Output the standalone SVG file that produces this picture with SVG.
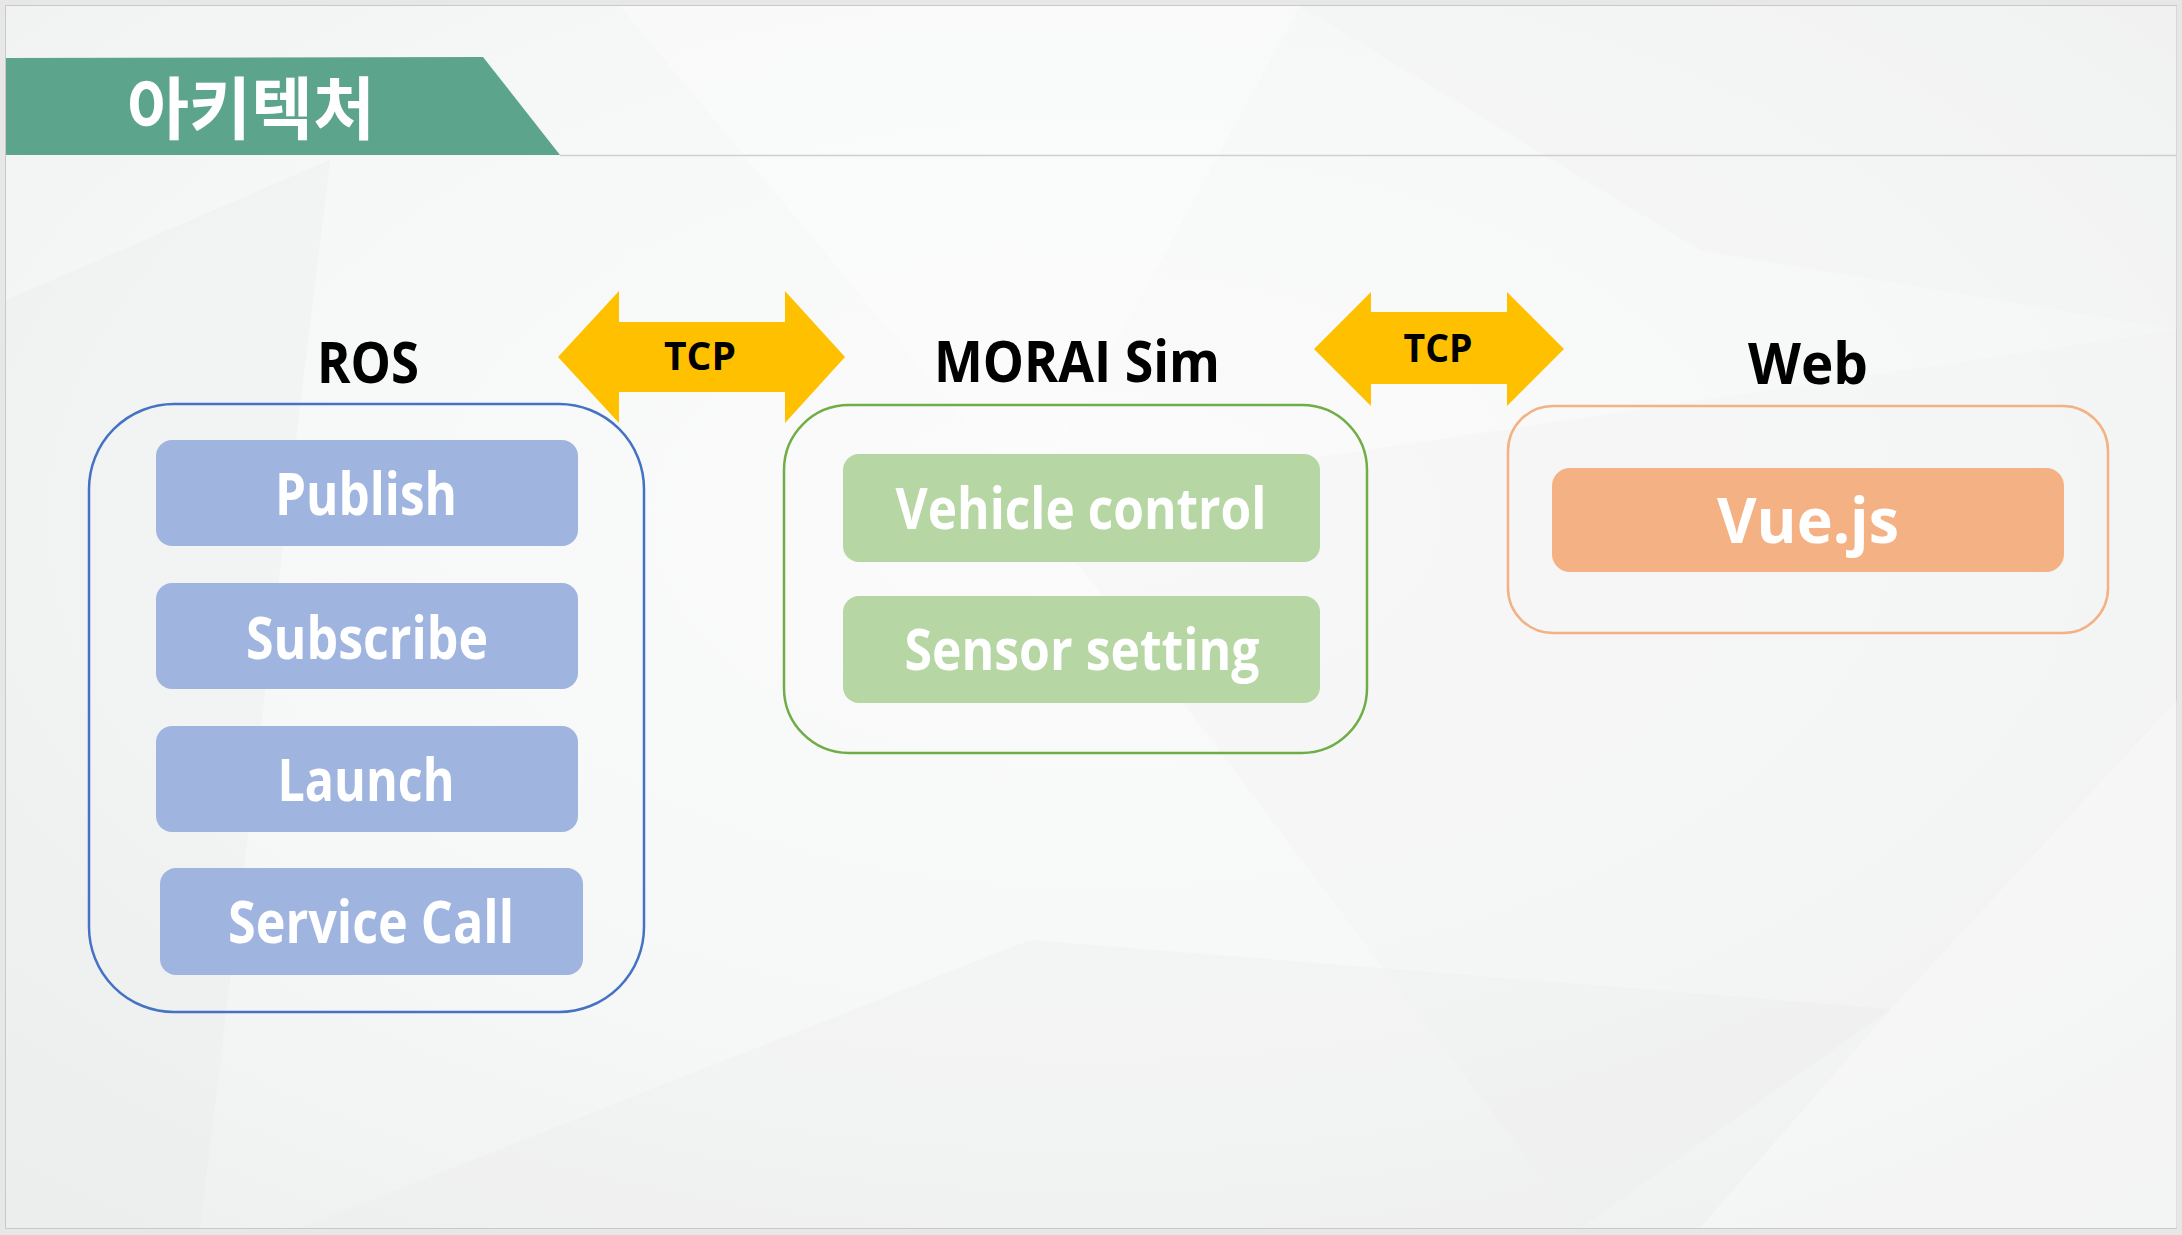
<svg xmlns="http://www.w3.org/2000/svg" width="2182" height="1235" viewBox="0 0 2182 1235">
<defs>
<style>
.lbl{font-family:"Open Sans","Noto Sans",sans-serif;font-weight:700;fill:#ffffff;text-anchor:middle}
.hdr{font-family:"Open Sans","Noto Sans",sans-serif;font-weight:700;fill:#000000;text-anchor:middle;font-size:58px}
.tcp{font-family:"Open Sans","Noto Sans",sans-serif;font-weight:700;fill:#000000;text-anchor:middle;font-size:40px}
.ros-btn{fill:#9FB5DF}
.sim-btn{fill:#B6D6A3}
.web-btn{fill:#F4B183}
.frame{fill:none;stroke-width:2.5}
.arrow{fill:#FFC000}
.facet{stroke:none}
</style>
<radialGradient id="bg" cx="0.5" cy="0.42" r="0.75">
<stop offset="0" stop-color="#fbfbfb"/>
<stop offset="0.6" stop-color="#f6f7f7"/>
<stop offset="1" stop-color="#eeefef"/>
</radialGradient>
</defs>
<g id="background">
<rect width="2182" height="1235" fill="#e7e7e7"/>
<rect x="5.5" y="5.5" width="2171" height="1223" fill="url(#bg)" stroke="#c9c9c9" stroke-width="1"/>
<polygon class="facet" points="620,6 1300,6 1030,500" fill="#ffffff" opacity="0.3"/>
<polygon class="facet" points="6,300 330,160 200,1228 6,1228" fill="#e9eaea" opacity="0.3"/>
<polygon class="facet" points="1030,500 2177,330 2177,1228 1580,1228" fill="#eeeeee" opacity="0.25"/>
<polygon class="facet" points="1891,1009 2177,700 2177,1228 1700,1228" fill="#ffffff" opacity="0.3"/>
<polygon class="facet" points="300,1228 1030,940 1891,1009 1580,1228" fill="#ebecec" opacity="0.3"/>
<polygon class="facet" points="1300,6 2177,6 2177,330 1700,250" fill="#f0f0f0" opacity="0.35"/>
</g>
<g id="title">
<polygon points="6,58 483,57 560,155 6,155" fill="#5DA48C"/>
<line x1="560" y1="155.5" x2="2177" y2="155.5" stroke="#cfcfcf" stroke-width="1.5"/>
<text x="251" y="134" font-family="'Noto Sans CJK KR','Noto Sans CJK SC',sans-serif" font-weight="700" font-size="68" fill="#ffffff" text-anchor="middle" textLength="248" lengthAdjust="spacingAndGlyphs">아키텍처</text>
</g>
<g id="connectors">
<g id="tcp-ros-sim">
<polygon class="arrow" points="558,357 619,291 619,322 785,322 785,291 845,357 785,423 785,392 619,392 619,423"/>
<text class="tcp" x="700" y="370" textLength="72" lengthAdjust="spacingAndGlyphs">TCP</text>
</g>
<g id="tcp-sim-web">
<polygon class="arrow" points="1314,349 1371,292 1371,312 1507,312 1507,292 1564,349 1507,406 1507,384 1371,384 1371,406"/>
<text class="tcp" x="1438" y="362" textLength="69" lengthAdjust="spacingAndGlyphs">TCP</text>
</g>
</g>
<g id="ros">
<text class="hdr" x="368" y="383" textLength="102" lengthAdjust="spacingAndGlyphs">ROS</text>
<rect class="frame" x="89" y="404" width="555" height="608" rx="85" ry="85" stroke="#4472C4"/>
<g id="ros-publish">
<rect class="ros-btn" x="156" y="440" width="422" height="106" rx="16"/>
<text class="lbl" x="366" y="515" font-size="59" textLength="182" lengthAdjust="spacingAndGlyphs">Publish</text>
</g>
<g id="ros-subscribe">
<rect class="ros-btn" x="156" y="583" width="422" height="106" rx="16"/>
<text class="lbl" x="367" y="659" font-size="59" textLength="242" lengthAdjust="spacingAndGlyphs">Subscribe</text>
</g>
<g id="ros-launch">
<rect class="ros-btn" x="156" y="726" width="422" height="106" rx="16"/>
<text class="lbl" x="366" y="801" font-size="59" textLength="177" lengthAdjust="spacingAndGlyphs">Launch</text>
</g>
<g id="ros-service-call">
<rect class="ros-btn" x="160" y="868" width="423" height="107" rx="16"/>
<text class="lbl" x="371" y="943" font-size="59" textLength="286" lengthAdjust="spacingAndGlyphs">Service Call</text>
</g>
</g>
<g id="morai">
<text class="hdr" x="1077" y="382" textLength="286" lengthAdjust="spacingAndGlyphs">MORAI Sim</text>
<rect class="frame" x="784" y="405" width="583" height="348" rx="65" ry="65" stroke="#70AD47"/>
<g id="morai-vehicle-control">
<rect class="sim-btn" x="843" y="454" width="477" height="108" rx="16"/>
<text class="lbl" x="1081" y="529" font-size="58" textLength="371" lengthAdjust="spacingAndGlyphs">Vehicle control</text>
</g>
<g id="morai-sensor-setting">
<rect class="sim-btn" x="843" y="596" width="477" height="107" rx="16"/>
<text class="lbl" x="1082" y="670" font-size="58" textLength="355" lengthAdjust="spacingAndGlyphs">Sensor setting</text>
</g>
</g>
<g id="web">
<text class="hdr" x="1808" y="384" textLength="120" lengthAdjust="spacingAndGlyphs">Web</text>
<rect class="frame" x="1508" y="406" width="600" height="227" rx="45" ry="45" stroke="#F4B183"/>
<g id="web-vue">
<rect class="web-btn" x="1552" y="468" width="512" height="104" rx="18"/>
<text class="lbl" x="1808" y="543" font-size="62" textLength="182" lengthAdjust="spacingAndGlyphs">Vue.js</text>
</g>
</g>
</svg>
